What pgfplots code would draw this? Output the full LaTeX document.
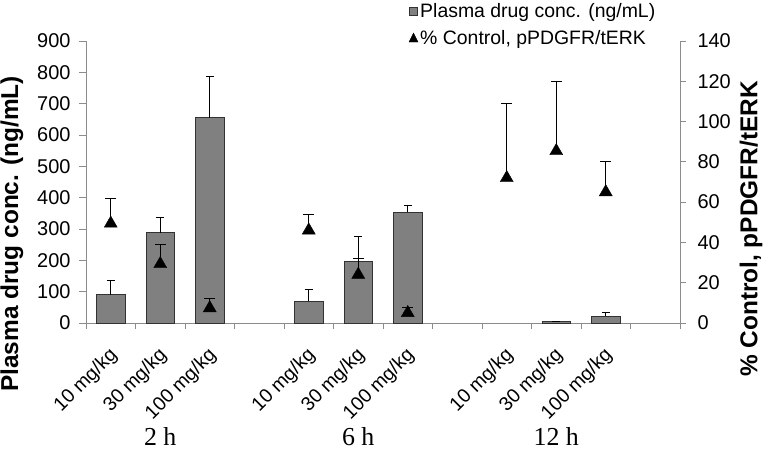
\documentclass[border=0pt]{standalone}
\usepackage{pgfplots}
\pgfplotsset{compat=1.18}
\usepackage{fontspec}
\setmainfont{Liberation Sans}
\newfontfamily\timesf{Liberation Serif}
\definecolor{barfill}{RGB}{128,128,128}
\definecolor{baredge}{RGB}{50,50,50}
\definecolor{axgray}{RGB}{140,140,140}
\begin{document}
\begin{tikzpicture}
\useasboundingbox (0,0) rectangle (763bp,451bp);
\begin{axis}[
  at={(86bp,128bp)}, anchor=south west,
  scale only axis, width=594bp, height=282bp,
  xmin=-0.5, xmax=11.5, ymin=0, ymax=900,
  axis y line*=left, axis x line*=bottom,
  axis line style={axgray, line width=0.8pt},
  ytick={0,100,...,900},
  xtick={0,1,2,4,5,6,8,9,10},
  xticklabels={10 mg/kg,30 mg/kg,100 mg/kg,10 mg/kg,30 mg/kg,100 mg/kg,10 mg/kg,30 mg/kg,100 mg/kg},
  minor xtick={-0.5,0.5,...,11.5},
  major x tick style={draw=none},
  minor x tick style={axgray, line width=0.8pt},
  y tick style={axgray, line width=0.8pt},
  tick align=outside,
  major tick length=7bp, minor tick length=6bp,
  /pgf/number format/assume math mode=true,
  yticklabel style={font=\fontsize{20}{20}\selectfont, black, xshift=-5bp},
  xticklabel style={font=\fontsize{19.5}{19.5}\selectfont, black, yshift=-20bp, xshift=6bp, rotate=45, anchor=east},
  ylabel={Plasma drug conc. (ng/mL)},
  every axis y label/.style={at={(axis description cs:-0.1246,0.316)}, rotate=90, anchor=center,
    font=\bfseries\fontsize{24.5}{24.5}\selectfont},
  clip=false,
]
\addplot[ybar, bar width=0.57, fill=barfill, draw=baredge, line width=0.7pt,
  error bars/.cd, y dir=plus, y explicit,
  error bar style={black, line width=0.8pt},
  error mark options={black, line width=0.8pt, mark size=4bp, rotate=90}]
coordinates {
  (0,90) +- (0,45)
  (1,288) +- (0,49)
  (2,655) +- (0,133)
  (4,70) +- (0,36)
  (5,197) +- (0,78)
  (6,353) +- (0,23)
  (9,4) +- (0,1)
  (10,22) +- (0,13)
};
\node[font=\timesf\fontsize{26}{26}\selectfont] at ([yshift=-114bp]axis cs:1,0) {2 h};
\node[font=\timesf\fontsize{26}{26}\selectfont] at ([yshift=-114bp]axis cs:5,0) {6 h};
\node[font=\timesf\fontsize{26}{26}\selectfont] at ([yshift=-114bp]axis cs:9,0) {12 h};
\end{axis}
\begin{axis}[
  at={(86bp,128bp)}, anchor=south west,
  scale only axis, width=594bp, height=282bp,
  xmin=-0.5, xmax=11.5, ymin=0, ymax=140,
  axis y line*=right, axis x line=none,
  axis line style={axgray, line width=0.8pt},
  ytick={0,20,...,140},
  y tick style={axgray, line width=0.8pt},
  tick align=outside, major tick length=6bp,
  /pgf/number format/assume math mode=true,
  yticklabel style={font=\fontsize{20}{20}\selectfont, black, xshift=8bp},
  ylabel={\% Control, pPDGFR/tERK},
  every axis y label/.style={at={(axis description cs:1.1195,0.333)}, rotate=90, anchor=center,
    font=\bfseries\fontsize{24.5}{24.5}\selectfont},
  legend style={at={(0.543,1.14)}, anchor=north west, draw=none, fill=none,
    font=\fontsize{19.5}{19.5}\selectfont, inner sep=0pt, row sep=7bp,
    /tikz/every even column/.append style={column sep=0pt}},
  legend cell align=left,
  clip=false,
]
\addlegendimage{legend image code/.code={\draw[fill=barfill, draw=baredge, line width=0.6pt] (0bp,-4bp) rectangle (8bp,4bp);}}
\addlegendentry{Plasma drug conc. (ng/mL)}
\addplot[only marks, mark=triangle*, mark size=7.5bp, black,
  legend image code/.code={\fill[black] (0bp,-4bp) -- (9bp,-4bp) -- (4.5bp,5bp) -- cycle;},
  error bars/.cd, y dir=plus, y explicit,
  error bar style={black, line width=0.8pt},
  error mark options={black, line width=0.8pt, mark size=5.5bp, rotate=90}]
coordinates {
  (0,49.4) +- (0,12.6)
  (1,29.3) +- (0,9.7)
  (2,7.4) +- (0,4.6)
  (4,46) +- (0,8)
  (5,24) +- (0,8)
  (6,5) +- (0,2.5)
  (8,72) +- (0,37)
  (9,85.4) +- (0,34.6)
  (10,65) +- (0,15)
};
\addlegendentry{\% Control, pPDGFR/tERK}
\end{axis}
\end{tikzpicture}
\end{document}
